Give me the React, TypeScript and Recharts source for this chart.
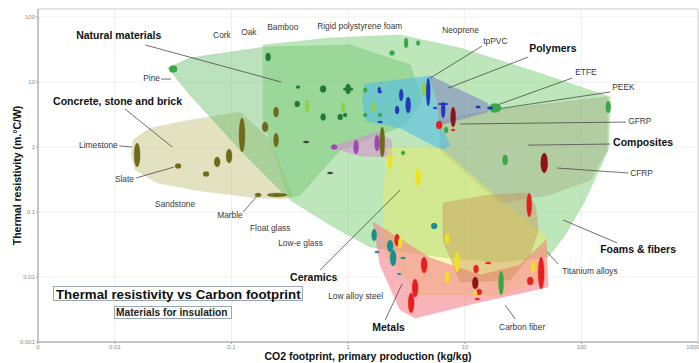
import React from 'react';
import { ScatterChart, Scatter, XAxis, YAxis, CartesianGrid, ReferenceArea, Label } from 'recharts';

type Pt = [number, number];
// centre x, centre y, multiplicative half-range in x, multiplicative half-range in y
type Mark = [number, number, number, number];
// x1, y1, x2, y2
type Leader = [number, number, number, number];
type Caption = { text: string; x: number; y: number };

const X_DOMAIN: [number, number] = [0.00219, 1000];
const Y_DOMAIN: [number, number] = [0.001, 132.8];
const xTicks = [0.00219, 0.01, 0.1, 1, 10, 100, 1000];
const yTicks = [0.001, 0.01, 0.1, 1, 10, 100];

// ---- family envelopes (CO2 kg/kg, thermal resistivity m.°C/W) ----
const concreteEnvelope: Pt[] = [[0.0138, 0.753], [0.0143, 1.28], [0.02, 1.96], [0.0441, 2.6], [0.119, 3.45], [0.214, 1.28], [0.331, 0.183], [0.288, 0.158], [0.166, 0.164], [0.0538, 0.211], [0.023, 0.279], [0.0149, 0.443]];
const naturalEnvelope: Pt[] = [[0.0286, 16.4], [0.0441, 23.4], [0.194, 34.5], [1.04, 37.1], [3.4, 18.3], [4.31, 5.28], [3.08, 2.18], [0.854, 0.899], [0.388, 0.183], [0.306, 0.164], [0.119, 0.899], [0.0441, 6.31]];
const foamEnvelope: Pt[] = [[0.187, 37.1], [0.701, 47.5], [2.79, 52.9], [9.13, 33.3], [36.4, 15.3], [177, 5.88], [170, 0.899], [108, 0.153], [72.6, 0.0443], [51.9, 0.0203], [20.1, 0.017], [6.15, 0.0203], [1.54, 0.029], [0.701, 0.0631], [0.318, 0.153], [0.187, 2.6]];
const compositeEnvelope: Pt[] = [[6.15, 2.6], [18.2, 3.71], [166, 5.88], [166, 0.899], [119, 0.311], [51.9, 0.183], [20.1, 0.138], [6.15, 0.899]];
const polymerEnvelope: Pt[] = [[1.32, 5.28], [1.4, 9.31], [5.05, 12.4], [6.15, 2.18], [7.5, 1.07], [6.4, 0.899], [2.79, 1.96], [1.43, 2.51]];
const elastomerEnvelope: Pt[] = [[5.05, 12.4], [15.6, 4.75], [16.5, 3.98], [15.6, 3.45], [6.15, 2.18], [5.68, 5.28]];
const polymerFoamEnvelope: Pt[] = [[0.701, 1], [1.77, 1.7], [2.34, 1.28], [2.38, 0.702], [1.27, 0.727]];
const ceramicEnvelope: Pt[] = [[2.16, 0.965], [6.15, 0.965], [20.1, 0.153], [48.9, 0.0443], [48.9, 0.00899], [20.1, 0.00529], [4.14, 0.00529], [2.08, 0.0218], [2.0, 0.153]];
const metalEnvelope: Pt[] = [[1.64, 0.0702], [5.05, 0.0196], [13.6, 0.0107], [29.8, 0.0153], [49.9, 0.0371], [51.9, 0.00702], [13.6, 0.00412], [3.75, 0.00234], [2.79, 0.00311], [1.88, 0.0153]];
const hardAlloyEnvelope: Pt[] = [[6.53, 0.138], [16.5, 0.183], [34.3, 0.196], [40.2, 0.128], [42.6, 0.0529], [36.4, 0.0218], [24.5, 0.00899], [9.13, 0.00838], [6.53, 0.0371]];

// ---- individual materials ----
const stoneMarks: Mark[] = [
  [0.0155, 0.753, 1.061, 1.53], [0.0348, 0.51, 1.061, 1.093], [0.0605, 0.384, 1.061, 1.093],
  [0.0753, 0.588, 1.061, 1.194], [0.0953, 0.727, 1.061, 1.281], [0.123, 1.53, 1.061, 1.827],
  [0.194, 2.03, 1.061, 1.194], [0.241, 3.45, 1.051, 1.194], [0.241, 1.28, 1.051, 1.281],
  [0.169, 0.183, 1.061, 1.073], [0.246, 0.183, 1.218, 1.073], [1.96, 1.19, 1.051, 1.7],
];
const glassMarks: Mark[] = [[0.436, 1.19, 1.061, 1.036], [0.701, 0.398, 1.061, 1.036]];
const woodMarks: Mark[] = [
  [0.206, 24.2, 1.051, 1.152], [0.372, 8.38, 1.04, 1.055], [0.61, 7.8, 1.061, 1.132],
  [1.0, 7.8, 1.051, 1.194], [1.0, 7.8, 1.104, 1.055], [0.366, 4.59, 1.051, 1.112],
  [0.61, 2.89, 1.051, 1.132], [0.854, 2.89, 1.051, 1.112], [0.942, 3.11, 1.04, 1.073],
];
const plantMarks: Mark[] = [
  [0.0316, 15.85, 1.082, 1.132], [1.4, 3.11, 1.04, 1.073], [1.88, 3.11, 1.04, 1.073],
  [2.38, 27.9, 1.051, 1.093], [3.14, 39.8, 1.04, 1.194], [3.98, 39.8, 1.04, 1.093],
  [1.4, 7.53, 1.04, 1.093], [2.96, 0.809, 1.04, 1.073], [6.92, 1.83, 1.04, 1.112],
  [18.2, 3.98, 1.126, 1.173], [170, 4.12, 1.051, 1.237], [22.2, 0.631, 1.051, 1.194],
  [20.5, 0.00809, 1.051, 1.53],
];
const fibreMarks: Mark[] = [[0.445, 4.27, 1.04, 1.237], [0.906, 4.12, 1.04, 1.194], [1.64, 4.12, 1.04, 1.194], [4.48, 7.8, 1.051, 1.281]];
const polymerMarks: Mark[] = [
  [1.88, 7.02, 1.04, 1.036], [2.85, 6.31, 1.04, 1.237], [2.63, 3.71, 1.04, 1.152],
  [3.27, 4.43, 1.051, 1.328], [4.86, 7.02, 1.04, 1.642], [5.57, 3.98, 1.04, 1.036],
  [6.53, 3.71, 1.04, 1.328], [6.53, 4.59, 1.104, 1.036], [13.0, 4.12, 1.051, 1.043],
  [16.5, 3.98, 1.061, 1.043], [1.88, 2.42, 1.051, 1.036], [1.85, 7.53, 1.03, 1.112],
];
const darkRedMarks: Mark[] = [[7.95, 2.89, 1.051, 1.425], [48.0, 0.567, 1.071, 1.425], [12.3, 0.00809, 1.061, 1.237]];
const redMarks: Mark[] = [
  [6.03, 2.18, 1.061, 1.152], [7.95, 1.83, 1.04, 1.036], [35.7, 0.128, 1.051, 1.53],
  [45.2, 0.0115, 1.061, 1.763], [2.63, 0.0371, 1.051, 1.237], [4.48, 0.0153, 1.061, 1.328],
  [3.75, 0.00677, 1.061, 1.376], [3.47, 0.00398, 1.061, 1.425], [12.5, 0.0133, 1.051, 1.152],
  [15.9, 0.0164, 1.061, 1.036], [13.3, 0.00588, 1.051, 1.112], [12.8, 0.00459, 1.051, 1.036],
  [36.4, 0.00868, 1.061, 1.152],
];
const ceramicMarks: Mark[] = [
  [2.29, 0.567, 1.04, 1.237], [3.98, 0.345, 1.051, 1.376], [2.29, 0.702, 1.051, 1.055],
  [7.06, 0.0384, 1.04, 1.194], [8.6, 0.017, 1.051, 1.425], [7.06, 0.01, 1.04, 1.237],
  [2.79, 0.0334, 1.04, 1.194], [38.6, 0.0143, 1.04, 1.237], [12.3, 0.00567, 1.04, 1.073],
];
const tealMarks: Mark[] = [
  [1.67, 0.0443, 1.051, 1.237], [1.77, 0.0242, 1.051, 1.036], [2.29, 0.03, 1.061, 1.237],
  [2.43, 0.0196, 1.061, 1.328], [2.96, 0.0196, 1.051, 1.036], [2.74, 0.0111, 1.04, 1.036],
  [5.47, 0.0609, 1.061, 1.112],
];
const foamMarks: Mark[] = [[0.758, 1, 1.061, 1.093], [1.17, 1, 1.051, 1.281], [1.77, 1.15, 1.051, 1.328]];

// ---- annotations ----
const familyCaptions: Caption[] = [
  { text: 'Natural materials', x: 0.00465, y: 45.9 },
  { text: 'Concrete, stone and brick', x: 0.00295, y: 4.43 },
  { text: 'Polymers', x: 35.7, y: 28.9 },
  { text: 'Composites', x: 187, y: 1.04 },
  { text: 'Foams & fibers', x: 145, y: 0.0234 },
  { text: 'Ceramics', x: 0.318, y: 0.00868 },
  { text: 'Metals', x: 1.61, y: 0.0015 },
];
const materialCaptions: Caption[] = [
  { text: 'Cork', x: 0.0695, y: 47.5 },
  { text: 'Oak', x: 0.121, y: 52.9 },
  { text: 'Bamboo', x: 0.202, y: 63.1 },
  { text: 'Rigid polystyrene foam', x: 0.542, y: 65.4 },
  { text: 'Neoprene', x: 6.4, y: 56.7 },
  { text: 'tpPVC', x: 14.4, y: 38.4 },
  { text: 'ETFE', x: 88.5, y: 12.8 },
  { text: 'PEEK', x: 184, y: 7.53 },
  { text: 'GFRP', x: 252, y: 2.26 },
  { text: 'CFRP', x: 262, y: 0.358 },
  { text: 'Titanium alloys', x: 68.4, y: 0.0111 },
  { text: 'Carbon fiber', x: 19.7, y: 0.00153 },
  { text: 'Low alloy steel', x: 0.674, y: 0.00459 },
  { text: 'Low-e glass', x: 0.251, y: 0.03 },
  { text: 'Float glass', x: 0.144, y: 0.051 },
  { text: 'Marble', x: 0.0753, y: 0.0809 },
  { text: 'Sandstone', x: 0.0221, y: 0.119 },
  { text: 'Slate', x: 0.01, y: 0.289 },
  { text: 'Limestone', x: 0.00493, y: 0.965 },
  { text: 'Pine', x: 0.0175, y: 10.4 },
];
const leaders: Leader[] = [
  [0.0182, 37.1, 0.266, 10],
  [0.0122, 3.84, 0.031, 1],
  [35.0, 24.2, 7.2, 8.09],
  [83.4, 11.5, 19.0, 4.43],
  [177, 7.02, 19.0, 3.84],
  [242, 2.42, 9.13, 2.26],
  [177, 1.11, 35.0, 1.07],
  [252, 0.398, 62.0, 0.475],
  [203, 0.0334, 69.8, 0.0753],
  [63.2, 0.0158, 50.9, 0.0242],
  [27.0, 0.00226, 22.2, 0.00371],
  [2.08, 0.00218, 2.9, 0.0078],
  [0.575, 0.0128, 2.79, 0.218],
  [0.0109, 1.04, 0.014, 1],
  [0.0249, 11.1, 0.0303, 11.1],
  [14.1, 35.8, 5.05, 11.5],
  [0.0152, 0.334, 0.0322, 0.492],
  [0.126, 0.1, 0.163, 0.17],
];

const FONT = '"Liberation Sans", Arial, Helvetica, sans-serif';

const envelopes: { pts: Pt[]; fill: string; opacity: number }[] = [
  { pts: concreteEnvelope, fill: '#d6d6a6', opacity: 0.7 },
  { pts: naturalEnvelope, fill: '#5cb862', opacity: 0.42 },
  { pts: foamEnvelope, fill: '#7cce76', opacity: 0.5 },
  { pts: compositeEnvelope, fill: '#a2a078', opacity: 0.36 },
  { pts: polymerEnvelope, fill: '#52bde6', opacity: 0.6 },
  { pts: elastomerEnvelope, fill: '#8088c0', opacity: 0.6 },
  { pts: polymerFoamEnvelope, fill: '#d58ad0', opacity: 0.55 },
  { pts: ceramicEnvelope, fill: '#eeee58', opacity: 0.42 },
  { pts: metalEnvelope, fill: '#f47e86', opacity: 0.58 },
  { pts: hardAlloyEnvelope, fill: '#c48a48', opacity: 0.38 },
];

const markGroups: { marks: Mark[]; color: string }[] = [
  { marks: stoneMarks, color: '#6f6a1c' },
  { marks: glassMarks, color: '#3a3a3a' },
  { marks: woodMarks, color: '#1f7a35' },
  { marks: plantMarks, color: '#36a846' },
  { marks: fibreMarks, color: '#8fcf4c' },
  { marks: polymerMarks, color: '#2338b8' },
  { marks: darkRedMarks, color: '#8c1414' },
  { marks: redMarks, color: '#e51f1f' },
  { marks: ceramicMarks, color: '#f0e21c' },
  { marks: tealMarks, color: '#13908f' },
  { marks: foamMarks, color: '#a245b5' },
];

const NoMark = () => null;

const polygonLine = (fill: string, opacity: number) => (props: any) => {
  const pts = (props.points || []) as { x: number; y: number }[];
  const d = pts.map((p, i) => `${i ? 'L' : 'M'}${p.x},${p.y}`).join('') + 'Z';
  return <path d={d} fill={fill} fillOpacity={opacity} stroke={fill} strokeOpacity={0.35} strokeWidth={0.8} strokeLinejoin="round" />;
};

const ellipseLine = (color: string) => (props: any) => {
  const pts = (props.points || []) as { x: number; y: number }[];
  const out: React.ReactNode[] = [];
  for (let i = 0; i + 1 < pts.length; i += 2) {
    const a = pts[i];
    const b = pts[i + 1];
    out.push(
      <ellipse key={i} cx={(a.x + b.x) / 2} cy={(a.y + b.y) / 2} rx={Math.abs(b.x - a.x) / 2} ry={Math.abs(b.y - a.y) / 2}
        fill={color} stroke={color} strokeOpacity={0.6} strokeWidth={0.5} />
    );
  }
  return <g>{out}</g>;
};

const leaderLine = (props: any) => {
  const pts = (props.points || []) as { x: number; y: number }[];
  const out: React.ReactNode[] = [];
  for (let i = 0; i + 1 < pts.length; i += 2) {
    out.push(<line key={i} x1={pts[i].x} y1={pts[i].y} x2={pts[i + 1].x} y2={pts[i + 1].y} stroke="#4a4a4a" strokeWidth={0.8} />);
  }
  return <g>{out}</g>;
};

const FamilyText = (props: any) => (
  <text x={props.cx} y={props.cy} fontFamily={FONT} fontSize={10.5} fontWeight={700} fill="#111">{props.payload.text}</text>
);
const MaterialText = (props: any) => (
  <text x={props.cx} y={props.cy} fontFamily={FONT} fontSize={8.4} fill="#3a3a3a">{props.payload.text}</text>
);

const YTitle = (props: any) => {
  const vb = props.viewBox || { x: 0, y: 9, width: 38, height: 333 };
  const cx = vb.x + 17;
  const cy = vb.y + vb.height / 2;
  return (
    <text x={cx} y={cy} transform={`rotate(-90 ${cx} ${cy})`} textAnchor="middle" dominantBaseline="central"
      fontFamily={FONT} fontSize={10.5} fontWeight={700} fill="#111">
      Thermal resistivity (m.°C/W)
    </text>
  );
};

const fmtX = (v: number) => (v < 0.005 ? '0' : String(v));
const fmtY = (v: number) => String(v);

export default function App() {
  return (
    <div style={{ position: 'absolute', left: 0, top: 0, width: 699, height: 363, background: '#fff', fontFamily: FONT }}>
      <ScatterChart width={699} height={363} margin={{ top: 9, right: 1, bottom: 0, left: 0 }}>
        <CartesianGrid stroke="#efefef" />
        <XAxis type="number" dataKey="x" scale="log" domain={X_DOMAIN} allowDataOverflow ticks={xTicks}
          tickFormatter={fmtX} height={21} tickSize={2} tickMargin={1}
          tick={{ fontSize: 6, fill: '#8a8a8a', fontFamily: FONT }} axisLine={{ stroke: '#a8a8a8' }} tickLine={{ stroke: '#a8a8a8' }}>
          <Label value="CO2 footprint, primary production (kg/kg)" position="insideBottom" offset={3}
            style={{ fontWeight: 700, fontSize: 10.5, fill: '#111', fontFamily: FONT }} />
        </XAxis>
        <YAxis type="number" dataKey="y" scale="log" domain={Y_DOMAIN} allowDataOverflow ticks={yTicks}
          tickFormatter={fmtY} width={38} tickSize={2} tickMargin={1}
          tick={{ fontSize: 6, fill: '#8a8a8a', fontFamily: FONT }} axisLine={{ stroke: '#a8a8a8' }} tickLine={{ stroke: '#a8a8a8' }}>
          <Label content={YTitle} />
        </YAxis>
        <ReferenceArea x1={X_DOMAIN[0]} x2={X_DOMAIN[1]} y1={Y_DOMAIN[0]} y2={Y_DOMAIN[1]} fill="none" stroke="#d4d4d4" />

        {envelopes.map((e, i) => (
          <Scatter key={`env${i}`} data={e.pts.map(([x, y]) => ({ x, y }))} shape={NoMark}
            line={polygonLine(e.fill, e.opacity)} isAnimationActive={false} legendType="none" />
        ))}

        <Scatter data={leaders.flatMap(([x1, y1, x2, y2]) => [{ x: x1, y: y1 }, { x: x2, y: y2 }])} shape={NoMark}
          line={leaderLine} isAnimationActive={false} legendType="none" />

        {markGroups.map((g, i) => (
          <Scatter key={`mk${i}`} data={g.marks.flatMap(([x, y, fx, fy]) => [{ x: x / fx, y: y / fy }, { x: x * fx, y: y * fy }])}
            shape={NoMark} line={ellipseLine(g.color)} isAnimationActive={false} legendType="none" />
        ))}

        <Scatter data={materialCaptions} shape={MaterialText} isAnimationActive={false} legendType="none" />
        <Scatter data={familyCaptions} shape={FamilyText} isAnimationActive={false} legendType="none" />
      </ScatterChart>

      <div style={{ position: 'absolute', left: 53, top: 286, width: 250, height: 15, border: '1px solid #9aa8b8',
        fontSize: 13.3, fontWeight: 700, lineHeight: '15px', color: '#111', whiteSpace: 'nowrap', paddingLeft: 2, boxSizing: 'border-box' }}>
        Thermal resistivity vs Carbon footprint
      </div>
      <div style={{ position: 'absolute', left: 114, top: 306, width: 118, height: 13, border: '1px solid #9aa8b8',
        fontSize: 10.2, fontWeight: 700, lineHeight: '12px', color: '#222', whiteSpace: 'nowrap', paddingLeft: 1, boxSizing: 'border-box' }}>
        Materials for insulation
      </div>
    </div>
  );
}
